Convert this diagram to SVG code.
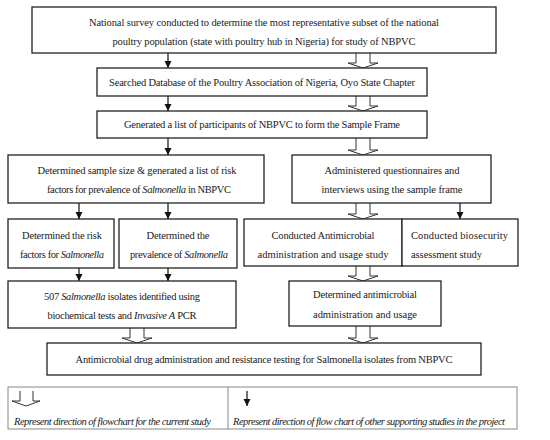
<svg xmlns="http://www.w3.org/2000/svg" width="550" height="440" viewBox="0 0 550 440">
<style>
.box{fill:#fff;stroke:#222;stroke-width:1.3}
.leg{fill:#fff;stroke:#888;stroke-width:1}
.t{font-family:"Liberation Serif",serif;font-size:10.5px;fill:#1a1a1a;text-anchor:middle}
.l{text-anchor:start}
.i{font-style:italic}
.thin{stroke:#111;stroke-width:1.2;fill:none;marker-end:url(#ah)}
.hol{fill:#fff;stroke:#333;stroke-width:1}
</style>
<defs>
<marker id="ah" markerUnits="userSpaceOnUse" markerWidth="8" markerHeight="8" refX="7" refY="3.5" orient="auto">
<path d="M0,0 L7,3.5 L0,7 Z" fill="#111"/>
</marker>
</defs>
<rect width="550" height="440" fill="#fff"/>
<g id="connectors">
<line class="thin" x1="168" y1="53" x2="168" y2="68"/>
<line class="thin" x1="168" y1="96" x2="168" y2="111"/>
<line class="thin" x1="168" y1="138" x2="168" y2="155"/>
<line class="thin" x1="79" y1="203" x2="79" y2="219"/>
<line class="thin" x1="168" y1="203" x2="168" y2="219"/>
<line class="thin" x1="460" y1="203" x2="460" y2="219"/>
<line class="thin" x1="79" y1="268" x2="79" y2="281"/>
<line class="thin" x1="168" y1="268" x2="168" y2="281"/>
<path class="hol" d="M356,53 V63 H348 L363,68 L378,63 H370 V53"/>
<path class="hol" d="M356,96 V106 H348 L363,111 L378,106 H370 V96"/>
<path class="hol" d="M356,138 V150 H348 L363,155 L378,150 H370 V138"/>
<path class="hol" d="M356,203 V214 H348 L363,219 L378,214 H370 V203"/>
<path class="hol" d="M356,266 V276 H348 L363,281 L378,276 H370 V266"/>
<path class="hol" d="M130,328 V338 H122 L137,343 L152,338 H144 V328"/>
<path class="hol" d="M356,326 V338 H348 L363,343 L378,338 H370 V326"/>
</g>
<g id="n1"><rect class="box" x="32" y="7" width="464" height="46"/>
<text class="t" x="264" y="26" textLength="350">National survey conducted to determine the most representative subset of the national</text>
<text class="t" x="264" y="45" textLength="303">poultry population (state with poultry hub in Nigeria) for study of NBPVC</text></g>
<g id="n2"><rect class="box" x="97" y="68" width="330" height="28"/>
<text class="t" x="262" y="86" textLength="306">Searched Database of the Poultry Association of Nigeria, Oyo State Chapter</text></g>
<g id="n3"><rect class="box" x="97" y="111" width="330" height="27"/>
<text class="t" x="262" y="128" textLength="276">Generated a list of participants of NBPVC to form the Sample Frame</text></g>
<g id="n4"><rect class="box" x="8" y="155" width="256" height="48"/>
<text class="t" x="137" y="174" textLength="199">Determined sample size &amp; generated a list of risk</text>
<text class="t" x="139" y="193" textLength="184">factors for prevalence of <tspan class="i">Salmonella</tspan> in NBPVC</text></g>
<g id="n5"><rect class="box" x="292" y="155" width="199" height="48"/>
<text class="t" x="392" y="174" textLength="135">Administered questionnaires and</text>
<text class="t" x="392" y="193" textLength="141">interviews using the sample frame</text></g>
<g id="n6"><rect class="box" x="8" y="219" width="106" height="49"/>
<text class="t" x="62" y="239" textLength="80">Determined the risk</text>
<text class="t" x="62" y="258" textLength="84">factors for <tspan class="i">Salmonella</tspan></text></g>
<g id="n7"><rect class="box" x="119" y="219" width="118" height="49"/>
<text class="t" x="178" y="239" textLength="63">Determined the</text>
<text class="t" x="179" y="258" textLength="98">prevalence of <tspan class="i">Salmonella</tspan></text></g>
<g id="n8"><rect class="box" x="244" y="219" width="158" height="47"/>
<text class="t" x="323" y="239" textLength="103">Conducted Antimicrobial</text>
<text class="t" x="323" y="258" textLength="131">administration and usage study</text></g>
<g id="n9"><rect class="box" x="402" y="219" width="116" height="47"/>
<text class="t l" x="411" y="239" textLength="97">Conducted  biosecurity</text>
<text class="t l" x="411" y="258" textLength="71">assessment study</text></g>
<g id="n10"><rect class="box" x="8" y="281" width="228" height="47"/>
<text class="t" x="122" y="300" textLength="156">507 <tspan class="i">Salmonella</tspan> isolates identified using</text>
<text class="t" x="122" y="319" textLength="149">biochemical tests and <tspan class="i">Invasive A</tspan> PCR</text></g>
<g id="n11"><rect class="box" x="289" y="281" width="152" height="45"/>
<text class="t" x="365" y="298" textLength="104">Determined antimicrobial</text>
<text class="t" x="365" y="318" textLength="104">administration and usage</text></g>
<g id="n12"><rect class="box" x="47" y="343" width="434" height="32"/>
<text class="t" x="264" y="363" textLength="377">Antimicrobial drug administration and resistance testing for Salmonella isolates from NBPVC</text></g>
<g id="legend">
<rect class="leg" x="8" y="387" width="509" height="42"/>
<line x1="228" y1="387" x2="228" y2="429" stroke="#888" stroke-width="1"/>
<path class="hol" d="M20,391 V401 H12 L26,406 L40,401 H33 V391"/>
<line class="thin" x1="247" y1="391" x2="247" y2="406"/>
<text class="t l i" x="14" y="425" textLength="197">Represent direction of flowchart for the current study</text>
<text class="t l i" x="233" y="425" textLength="272">Represent direction of flow chart of other supporting studies in the project</text>
</g>
</svg>
